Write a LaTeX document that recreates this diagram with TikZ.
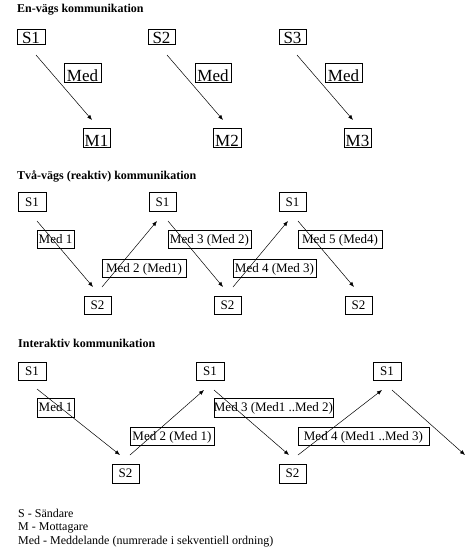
\documentclass[tikz,border=0pt]{standalone}
\usepackage{fontspec}
\setmainfont{Liberation Serif}
\usetikzlibrary{arrows.meta}
\begin{document}
\begin{tikzpicture}[x=1pt,y=-1pt,
  title/.style={anchor=base west, inner sep=0pt, font=\bfseries\fontsize{12}{12}\selectfont},
  legend/.style={anchor=base west, inner sep=0pt, font=\fontsize{12}{12}\selectfont},
  box/.style={draw, line width=0.8pt, inner sep=0pt, font=\fontsize{13}{13}\selectfont, text height=8.6pt, text depth=0pt},
  bx/.style 2 args={box, minimum width=#1pt, minimum height=#2pt},
  bigS/.style 2 args={draw, line width=0.8pt, inner sep=0pt, font=\fontsize{17}{17}\selectfont, text height=13pt, text depth=0pt, minimum width=#1pt, minimum height=#2pt},
  bigM/.style 2 args={draw, line width=0.8pt, inner sep=0pt, font=\fontsize{17}{17}\selectfont, text height=17pt, text depth=0pt, minimum width=#1pt, minimum height=#2pt},
  msg/.style={line width=0.5pt, -{Latex[length=5pt,width=4pt]}}]
\useasboundingbox (0,0) rectangle (474,560);

% ---------- En-vägs ----------
\node[title] (t1) at (17,12) {En-vägs kommunikation};
\node[bigS={28}{15}] (a-s1) at (31,36.5) {S1};
\node[bigS={27}{15}] (a-s2) at (161.5,36.5) {S2};
\node[bigS={27}{15}] (a-s3) at (292.5,36.5) {S3};
\node[bigM={37}{19}] (a-m1l) at (82.5,72.5) {Med};
\node[bigM={36}{19}] (a-m2l) at (213,72.5) {Med};
\node[bigM={37}{19}] (a-m3l) at (343.5,72.5) {Med};
\node[bigM={27}{19}] (a-m1) at (96.5,137.5) {M1};
\node[bigM={28}{19}] (a-m2) at (227,137.5) {M2};
\node[bigM={27}{19}] (a-m3) at (357.5,137.5) {M3};
\coordinate (a1s) at (36,55);  \coordinate (a1e) at (92,120);
\coordinate (a2s) at (167,55); \coordinate (a2e) at (223,120);
\coordinate (a3s) at (297,55); \coordinate (a3e) at (353,120);
\draw[msg] (a1s) -- (a1e);
\draw[msg] (a2s) -- (a2e);
\draw[msg] (a3s) -- (a3e);

% ---------- Två-vägs ----------
\node[title] (t2) at (17,179.5) {Två-vägs (reaktiv) kommunikation};
\node[bx={28}{19}] (b-s1a) at (32,202) {S1};
\node[bx={27}{19}] (b-s1b) at (162.5,202) {S1};
\node[bx={27}{19}] (b-s1c) at (292.5,202) {S1};
\node[bx={27}{18}] (b-s2a) at (97.5,305) {S2};
\node[bx={27}{18}] (b-s2b) at (227.5,305) {S2};
\node[bx={27}{18}] (b-s2c) at (358.5,305) {S2};
\node[bx={37}{18}] (b-l1) at (55.5,239.5) {Med 1};
\node[bx={84}{18}] (b-l2) at (144,268) {Med 2 (Med1)};
\node[bx={83}{18}] (b-l3) at (209.5,239.5) {Med 3 (Med 2)};
\node[bx={83}{18}] (b-l4) at (274.5,268) {Med 4 (Med 3)};
\node[bx={84}{18}] (b-l5) at (340,239.5) {Med 5 (Med4)};
\coordinate (b1s) at (37,221);  \coordinate (b1e) at (93,287);
\coordinate (b2s) at (102,287); \coordinate (b2e) at (157,221);
\coordinate (b3s) at (168,221); \coordinate (b3e) at (223,287);
\coordinate (b4s) at (233,287); \coordinate (b4e) at (288,221);
\coordinate (b5s) at (298,221); \coordinate (b5e) at (354,287);
\draw[msg] (b1s) -- (b1e);
\draw[msg] (b2s) -- (b2e);
\draw[msg] (b3s) -- (b3e);
\draw[msg] (b4s) -- (b4e);
\draw[msg] (b5s) -- (b5e);

% ---------- Interaktiv ----------
\node[title] (t3) at (18,347) {Interaktiv kommunikation};
\node[bx={28}{18}] (c-s1a) at (32,371) {S1};
\node[bx={28}{18}] (c-s1b) at (210,371) {S1};
\node[bx={28}{18}] (c-s1c) at (387,371) {S1};
\node[bx={27}{19}] (c-s2a) at (125.5,473.5) {S2};
\node[bx={27}{19}] (c-s2b) at (292.5,473.5) {S2};
\node[bx={37}{19}] (c-l1) at (55.5,407.5) {Med 1};
\node[bx={84}{18}] (c-l2) at (172,436) {Med 2 (Med 1)};
\node[bx={119}{19}] (c-l3) at (273.5,407.5) {Med 3 (Med1 ..Med 2)};
\node[bx={131}{18}] (c-l4) at (363.5,436) {Med 4 (Med1 ..Med 3)};
\coordinate (c1s) at (37,389);  \coordinate (c1e) at (120,455);
\coordinate (c2s) at (130,455); \coordinate (c2e) at (204,390);
\coordinate (c3s) at (214,390); \coordinate (c3e) at (289,455);
\coordinate (c4s) at (298,455); \coordinate (c4e) at (382,390);
\coordinate (c5s) at (392,390); \coordinate (c5e) at (465,455);
\draw[msg] (c1s) -- (c1e);
\draw[msg] (c2s) -- (c2e);
\draw[msg] (c3s) -- (c3e);
\draw[msg] (c4s) -- (c4e);
\draw[msg] (c5s) -- (c5e);

% ---------- Legend ----------
\node[legend] (lg1) at (18,517) {S - Sändare};
\node[legend] (lg2) at (18,530.5) {M - Mottagare};
\node[legend] (lg3) at (18,544) {Med - Meddelande (numrerade i sekventiell ordning)};
\end{tikzpicture}
\end{document}
